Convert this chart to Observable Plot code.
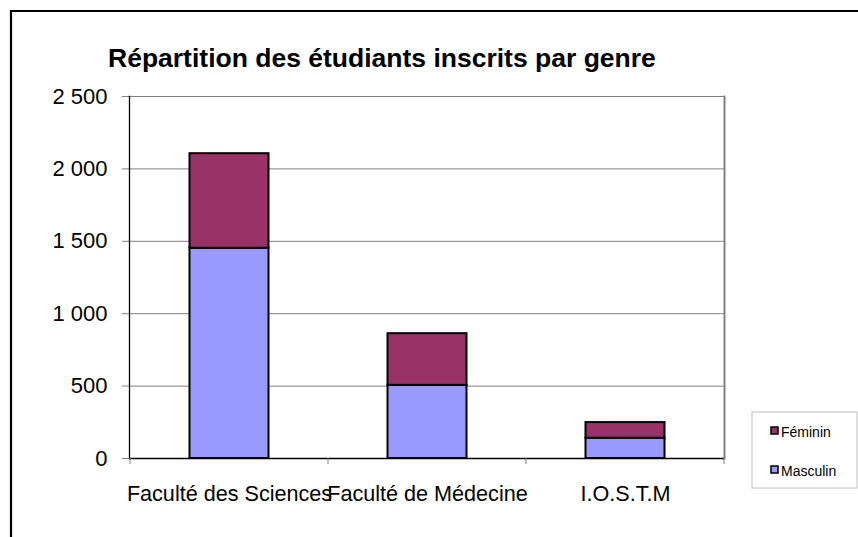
<!DOCTYPE html>
<html>
<head>
<meta charset="utf-8">
<script src="https://cdn.jsdelivr.net/npm/d3@7"></script>
<script src="https://cdn.jsdelivr.net/npm/@observablehq/plot@0.6"></script>
<style>
  html, body { margin: 0; padding: 0; background: #fff; }
  #chart { position: relative; width: 858px; height: 537px; overflow: hidden; }
</style>
</head>
<body>
<div id="chart"></div>
<script>
const title = "Répartition des étudiants inscrits par genre";
const categories = ["Faculté des Sciences", "Faculté de Médecine", "I.O.S.T.M"];
const genres = ["Masculin", "Féminin"];
const masculin = [1452, 505, 140];
const feminin = [653, 357, 108];
const colors = ["#9999FF", "#993366"];
const yTicks = [0, 500, 1000, 1500, 2000, 2500];
const legendOrder = ["Féminin", "Masculin"];

const data = [];
categories.forEach((c, i) => {
  data.push({cat: c, genre: "Masculin", value: masculin[i]});
  data.push({cat: c, genre: "Féminin", value: feminin[i]});
});

const fmt = d => d3.format(",")(d).replace(/,/g, " ");
const FONT = "'Liberation Sans', Arial, sans-serif";

const chart = Plot.plot({
  width: 858,
  height: 537,
  marginLeft: 129,
  marginRight: 134,
  marginTop: 96,
  marginBottom: 79,
  style: {fontFamily: FONT, fontSize: "21px", color: "black", background: "white"},
  x: {type: "band", domain: categories, padding: 0, label: null},
  y: {domain: [0, 2500], label: null},
  color: {domain: genres, range: colors},
  marks: [
    Plot.gridY(yTicks, {stroke: "#808080", strokeOpacity: 1, strokeWidth: 1}),
    Plot.axisY(yTicks, {tickSize: 7, tickPadding: 15, tickFormat: fmt, stroke: "#808080", fill: "black", fontSize: 22, label: null}),
    Plot.axisX({tickSize: 0, tickPadding: 27, fontSize: 21.6, fill: "black", label: null}),
    Plot.frame({anchor: "right", stroke: "#808080", strokeWidth: 2}),
    Plot.frame({anchor: "left", stroke: "black", strokeWidth: 1.3}),
    Plot.ruleY([0], {stroke: "black", strokeWidth: 1.5}),
    Plot.barY(data, Plot.stackY({
      x: "cat", y: "value", fill: "genre",
      stroke: "black", strokeWidth: 2,
      insetLeft: 59.5, insetRight: 59.5
    }))
  ]
});

const svg = d3.select(chart);
const sx = chart.scale("x");
const sy = chart.scale("y");
const y0 = sy.apply(0);
const bounds = categories.map(c => sx.apply(c)).concat([sx.apply(categories[categories.length - 1]) + sx.bandwidth]);
svg.append("g").selectAll("line").data(bounds).join("line")
  .attr("x1", d => d).attr("x2", d => d)
  .attr("y1", y0).attr("y2", y0 + 6)
  .attr("stroke", "#808080").attr("stroke-width", 1);

// Title
svg.append("text")
  .attr("x", 108).attr("y", 67)
  .attr("text-anchor", "start")
  .attr("font-family", FONT).attr("font-size", 26.5).attr("font-weight", "bold")
  .attr("fill", "black")
  .text(title);

// Legend
const lg = svg.append("g").attr("text-anchor", "start");
lg.append("rect").attr("x", 752).attr("y", 412).attr("width", 105).attr("height", 76)
  .attr("fill", "white").attr("stroke", "#c0c0c0").attr("stroke-width", 1);
const colorOf = g => colors[genres.indexOf(g)];
const items = lg.selectAll("g.item").data(legendOrder).join("g")
  .attr("transform", (d, i) => `translate(771, ${427 + i * 39})`);
items.append("rect").attr("x", 0).attr("y", 0).attr("width", 7).attr("height", 7)
  .attr("fill", d => colorOf(d)).attr("stroke", "black").attr("stroke-width", 1.5);
items.append("text").attr("x", 10).attr("y", 9.5)
  .attr("text-anchor", "start")
  .attr("font-family", FONT).attr("font-size", 14).attr("fill", "black")
  .text(d => d);

// Outer frame (left and top edges visible)
svg.append("path").attr("d", "M11,537V11H858")
  .attr("fill", "none").attr("stroke", "black").attr("stroke-width", 2.2);

document.getElementById("chart").appendChild(chart);
</script>
</body>
</html>
